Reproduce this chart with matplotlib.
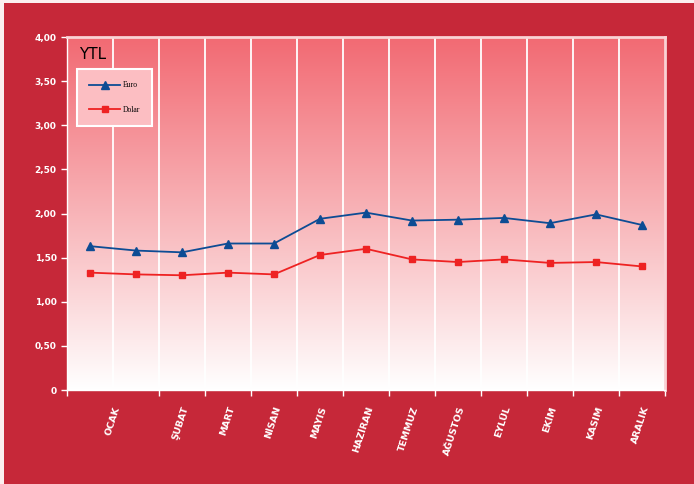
import numpy as np
import matplotlib
matplotlib.use("Agg")
import matplotlib.pyplot as plt
from matplotlib.colors import LinearSegmentedColormap
from matplotlib.patches import Rectangle
from matplotlib.ticker import FuncFormatter, FixedLocator, MultipleLocator

# monthly exchange rates (YTL)
months = ["OCAK", "ŞUBAT", "MART", "NİSAN", "MAYIS", "HAZİRAN", "TEMMUZ",
          "AĞUSTOS", "EYLÜL", "EKİM", "KASIM", "ARALIK"]
label_pos = [0.5, 2, 3, 4, 5, 6, 7, 8, 9, 10, 11, 12]
euro = [1.63, 1.58, 1.56, 1.66, 1.66, 1.94, 2.01, 1.92, 1.93, 1.95, 1.89, 1.99, 1.87]
dolar = [1.33, 1.31, 1.30, 1.33, 1.31, 1.53, 1.60, 1.48, 1.45, 1.48, 1.44, 1.45, 1.40]

RED = "#C62839"
fig = plt.figure(figsize=(6.94, 4.84), dpi=100, facecolor="#FBEFEF")
fig.patches.append(Rectangle((4 / 694, 0), 690 / 694, 481 / 484, transform=fig.transFigure,
                             facecolor=RED, edgecolor="none", zorder=-10))

ax = fig.add_axes([67 / 694, 1 - 390 / 484, 598 / 694, 353 / 484])
ax.set_zorder(5)
x = np.arange(len(euro))
ax.set_xlim(-0.5, len(euro) - 0.5)
ax.set_ylim(0, 4)

# vertical gradient background: white at bottom, salmon at top
cmap = LinearSegmentedColormap.from_list("bg", ["#FFFFFF", "#F8B4B8", "#F26A73"])
grad = np.linspace(0, 1, 256).reshape(-1, 1)
ax.imshow(grad, cmap=cmap, aspect="auto", origin="lower",
          extent=[-0.5, len(euro) - 0.5, 0, 4], zorder=0)

for b in np.arange(0.5, len(euro) - 0.5, 1.0):
    ax.axvline(b, color="white", lw=1.3, zorder=1)

ax.plot(x, euro, color="#0D4C94", lw=1.3, marker="^", ms=5.5, label="Euro", zorder=3)
ax.plot(x, dolar, color="#EE2222", lw=1.3, marker="s", ms=5, label="Dolar", zorder=3)

ax.yaxis.set_major_locator(MultipleLocator(0.5))
ax.yaxis.set_major_formatter(FuncFormatter(lambda v, p: "0" if v == 0 else f"{v:.2f}".replace(".", ",")))
ax.tick_params(axis="y", colors="white", labelcolor="white", labelsize=6.5, length=4,
               direction="out", width=1)
for t in ax.get_yticklabels():
    t.set_fontweight("bold")

ax.xaxis.set_major_locator(FixedLocator(label_pos))
ax.set_xticklabels(months, rotation=72, ha="right", rotation_mode="anchor",
                   color="white", fontsize=6.8, fontweight="bold")
ax.xaxis.set_minor_locator(FixedLocator(np.arange(-0.5, len(euro), 1.0)))
ax.tick_params(axis="x", which="major", length=0, pad=11)
ax.tick_params(axis="x", which="minor", length=4, color="white", width=1)

for side in ("left", "bottom"):
    ax.spines[side].set_color("white")
    ax.spines[side].set_linewidth(1)
for side in ("top", "right"):
    ax.spines[side].set_color("#FAD2D5")
    ax.spines[side].set_linewidth(2)

ax.text(0.02, 0.95, "YTL", transform=ax.transAxes, fontsize=11, color="black",
        ha="left", va="center")

leg = ax.legend(loc="upper left", bbox_to_anchor=(10 / 598, 1 - 32 / 353),
                prop={"family": "Liberation Serif", "size": 5.5}, frameon=True,
                fancybox=False, handlelength=4, borderpad=1.6, labelspacing=2.2,
                handletextpad=0.4, borderaxespad=0)
leg.get_frame().set_facecolor("#FCBEC2")
leg.get_frame().set_edgecolor("white")
leg.get_frame().set_linewidth(1.5)
leg.get_frame().set_alpha(1)

fig.savefig("out.png", dpi=100, facecolor=fig.get_facecolor())
